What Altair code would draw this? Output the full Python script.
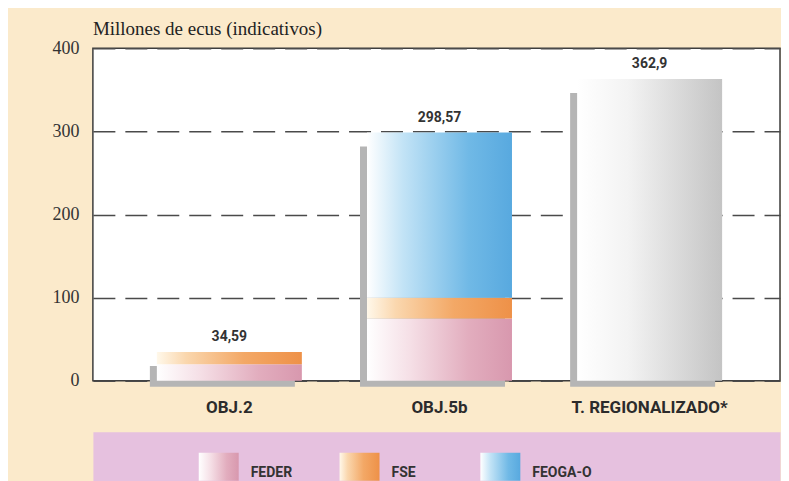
import altair as alt
import pandas as pd

# ---- data ----
categories = ["OBJ.2", "OBJ.5b", "T. REGIONALIZADO*"]
totals = [34.59, 298.57, 362.9]
total_labels = ["34,59", "298,57", "362,9"]
funds = ["FEDER", "FSE", "FEOGA-O"]
obj2_values = [20.0, 14.59, 0.0]
obj5b_values = [75.0, 25.0, 198.57]
treg_value = 362.9
y_ticks = [0, 100, 200, 300, 400]

rows = []
for i, (f, v) in enumerate(zip(funds, obj2_values)):
    rows.append({"cat": "OBJ.2", "fund": f, "value": v, "order": i})
for i, (f, v) in enumerate(zip(funds, obj5b_values)):
    rows.append({"cat": "OBJ.5b", "fund": f, "value": v, "order": i})
rows.append({"cat": "T. REGIONALIZADO*", "fund": "TOTAL", "value": treg_value, "order": 3})
seg = pd.DataFrame(rows)
tot = pd.DataFrame({"cat": categories, "total": totals, "label": total_labels})
leg = pd.DataFrame({"fund": funds})

COND = "Roboto, Liberation Sans, sans-serif"
SERIF = "Liberation Serif, DejaVu Serif, serif"


def grad(stops):
    return {
        "gradient": "linear", "x1": 0, "x2": 1, "y1": 0, "y2": 0,
        "stops": [{"offset": o, "color": c} for o, c in stops],
    }


fund_grad = {
    "FEDER": grad([(0, "#ffffff"), (0.3, "#f5dfe6"), (0.7, "#e2adbe"), (1, "#d898ae")]),
    "FSE": grad([(0, "#fff8ea"), (0.2, "#fad7ae"), (0.6, "#f3a866"), (1, "#ee9148")]),
    "FEOGA-O": grad([(0, "#ffffff"), (0.25, "#c2e3f6"), (0.7, "#70b9e6"), (1, "#58a9df")]),
    "TOTAL": grad([(0, "#ffffff"), (0.35, "#f3f3f3"), (1, "#c4c4c4")]),
}

x_enc = alt.X(
    "cat:N", sort=categories, title=None,
    scale=alt.Scale(paddingInner=0.31, paddingOuter=0.29, align=0.525),
    axis=alt.Axis(labelFont=COND, labelFontSize=17, labelFontWeight="bold",
                  labelColor="#2b2b2b", labelPadding=19, ticks=False,
                  domain=False, labelAngle=0),
)
y_scale = alt.Scale(domain=[0, 400], nice=False)
y_axis = alt.Axis(values=y_ticks, title=None, ticks=False, domain=False,
                  labelFont=SERIF, labelFontSize=18, labelColor="#333333",
                  labelPadding=14, gridDash=[22, 10], gridColor="#4a4a4a",
                  gridWidth=1.5, minExtent=84)

shadow = alt.Chart(tot).mark_bar(
    color="#b5b5b5", xOffset=-7, yOffset=14, y2Offset=6
).encode(
    x=x_enc,
    y=alt.Y("total:Q", scale=y_scale, axis=y_axis),
    y2=alt.datum(0),
)

base_seg = alt.Chart(seg).transform_stack(
    stack="value", as_=["y0", "y1"], groupby=["cat"],
    sort=[alt.SortField("order", order="ascending")],
)

seg_layers = []
for f in funds + ["TOTAL"]:
    seg_layers.append(
        base_seg.transform_filter(alt.datum.fund == f)
        .mark_bar(color=fund_grad[f])
        .encode(
            x=x_enc,
            y=alt.Y("y1:Q", scale=y_scale, axis=y_axis),
            y2="y0:Q",
        )
    )

labels = alt.Chart(tot).mark_text(
    dy=-15, baseline="middle", font=COND, fontSize=14, fontWeight="bold",
    color="#333333",
).encode(
    x=x_enc,
    y=alt.Y("total:Q", scale=y_scale, axis=y_axis),
    text="label:N",
)

main = alt.layer(shadow, *seg_layers, labels).properties(
    width=688, height=333,
    title=alt.TitleParams("Millones de ecus (indicativos)", anchor="start",
                          frame="group", font=SERIF, fontSize=19,
                          fontWeight="normal", color="#222222", offset=0),
    view=alt.ViewBackground(fill="white", stroke="#3d3d3d", strokeWidth=1.5),
)

lx = alt.X("fund:N", sort=funds, title=None, axis=None,
           scale=alt.Scale(type="point", range=[126, 408], padding=0))

leg_layers = []
for f in funds:
    leg_layers.append(
        alt.Chart(leg).transform_filter(alt.datum.fund == f)
        .mark_bar(width=40, color=fund_grad[f], yOffset=21)
        .encode(x=lx)
    )
leg_text = alt.Chart(leg).mark_text(
    align="left", dx=32, dy=17, font=COND, fontSize=14, fontWeight="bold",
    color="#333333",
).encode(x=lx, text="fund:N")

legend = alt.layer(*leg_layers, leg_text).properties(
    width=688, height=49,
    view=alt.ViewBackground(fill="#e6c1df", stroke="transparent"),
)

chart = alt.vconcat(main, legend, spacing=14).properties(
    padding={"left": 0, "top": 11, "right": 0, "bottom": 0},
    background="#fbeacb",
)

chart.save("out.html", embed_options={"renderer": "svg", "actions": False})
